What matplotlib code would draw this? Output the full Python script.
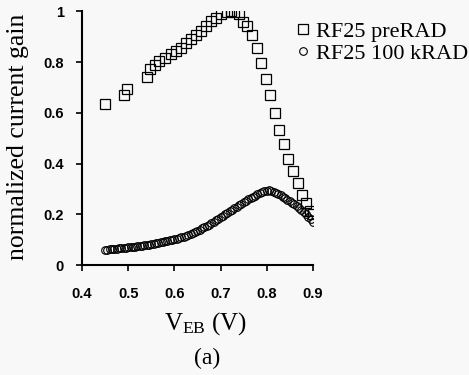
import matplotlib
matplotlib.use("Agg")
import matplotlib.pyplot as plt

plt.rcParams["mathtext.fontset"] = "custom"
plt.rcParams["mathtext.rm"] = "Liberation Serif"
plt.rcParams["mathtext.it"] = "Liberation Serif:italic"

pre_x = [0.450, 0.490, 0.498, 0.540, 0.547, 0.557, 0.567, 0.580, 0.592, 0.603,
         0.614, 0.625, 0.636, 0.647, 0.658, 0.669, 0.680, 0.691, 0.702, 0.713,
         0.722, 0.730, 0.740, 0.748, 0.758, 0.768, 0.778, 0.788, 0.798, 0.807,
         0.817, 0.827, 0.837, 0.847, 0.858, 0.867, 0.877, 0.886, 0.894, 0.900]
pre_y = [0.636, 0.672, 0.694, 0.742, 0.771, 0.788, 0.804, 0.814, 0.830, 0.843,
         0.856, 0.874, 0.889, 0.907, 0.922, 0.940, 0.960, 0.975, 0.990, 0.997,
         1.000, 0.996, 0.988, 0.957, 0.942, 0.905, 0.854, 0.797, 0.734, 0.669,
         0.600, 0.534, 0.476, 0.418, 0.369, 0.323, 0.277, 0.245, 0.215, 0.200]

rad_x = [0.450, 0.455, 0.460, 0.465, 0.470, 0.475, 0.480, 0.485, 0.490, 0.495,
         0.500, 0.505, 0.510, 0.515, 0.520, 0.525, 0.530, 0.535, 0.540, 0.545,
         0.550, 0.555, 0.560, 0.565, 0.570, 0.575, 0.580, 0.585, 0.590, 0.595,
         0.600, 0.605, 0.610, 0.615, 0.620, 0.625, 0.630, 0.635, 0.640, 0.645,
         0.650, 0.655, 0.660, 0.665, 0.670, 0.675, 0.680, 0.685, 0.690, 0.695,
         0.700, 0.705, 0.710, 0.715, 0.720, 0.725, 0.730, 0.735, 0.740, 0.745,
         0.750, 0.755, 0.760, 0.765, 0.770, 0.775, 0.780, 0.785, 0.790, 0.795,
         0.800, 0.805, 0.810, 0.815, 0.820, 0.825, 0.830, 0.835, 0.840, 0.845,
         0.850, 0.855, 0.860, 0.865, 0.870, 0.875, 0.880, 0.885, 0.890, 0.895,
         0.900]
rad_y = [0.060, 0.061, 0.062, 0.063, 0.064, 0.065, 0.066, 0.067, 0.068, 0.069,
         0.070, 0.071, 0.072, 0.073, 0.074, 0.075, 0.076, 0.078, 0.079, 0.081,
         0.083, 0.084, 0.086, 0.088, 0.090, 0.092, 0.094, 0.096, 0.098, 0.100,
         0.102, 0.104, 0.107, 0.110, 0.112, 0.115, 0.118, 0.122, 0.126, 0.130,
         0.135, 0.140, 0.145, 0.150, 0.155, 0.160, 0.166, 0.171, 0.176, 0.182,
         0.188, 0.194, 0.200, 0.206, 0.212, 0.218, 0.224, 0.230, 0.236, 0.242,
         0.248, 0.254, 0.259, 0.264, 0.269, 0.274, 0.279, 0.284, 0.288, 0.291,
         0.293, 0.294, 0.293, 0.290, 0.286, 0.281, 0.276, 0.270, 0.264, 0.258,
         0.252, 0.246, 0.240, 0.233, 0.226, 0.218, 0.210, 0.200, 0.190, 0.180,
         0.170]

x_ticks = [0.4, 0.5, 0.6, 0.7, 0.8, 0.9]
x_tick_labels = ["0.4", "0.5", "0.6", "0.7", "0.8", "0.9"]
y_ticks = [0, 0.2, 0.4, 0.6, 0.8, 1]
y_tick_labels = ["0", "0.2", "0.4", "0.6", "0.8", "1"]

bg = "#f8f8f8"
fig = plt.figure(figsize=(4.69, 3.75), dpi=100, facecolor=bg)
ax = fig.add_axes([0.175, 0.293, 0.492, 0.677], facecolor=bg)

ax.plot(pre_x, pre_y, linestyle="none", marker="s", markersize=7,
        markerfacecolor="none", markeredgecolor="black", markeredgewidth=0.9,
        label="RF25 preRAD")
ax.plot(rad_x, rad_y, linestyle="none", marker="o", markersize=5.5,
        markerfacecolor="none", markeredgecolor="black", markeredgewidth=0.8,
        label="RF25 100 kRAD")

ax.set_xlim(0.4, 0.9)
ax.set_ylim(0, 1)
ax.set_xticks(x_ticks)
ax.set_xticklabels(x_tick_labels)
ax.set_yticks(y_ticks)
ax.set_yticklabels(y_tick_labels)
for s in ["top", "right"]:
    ax.spines[s].set_visible(False)
for s in ["left", "bottom"]:
    ax.spines[s].set_linewidth(1.5)
ax.tick_params(direction="out", length=4, width=1.2, labelsize=10.5)
ax.tick_params(axis="x", pad=12)
ax.tick_params(axis="y", pad=9)
for lab in ax.get_xticklabels() + ax.get_yticklabels():
    lab.set_fontfamily("Liberation Sans")
    lab.set_fontweight("bold")

ax.set_ylabel("normalized current gain", fontfamily="Liberation Serif",
              fontsize=18.5, va="center")
ax.yaxis.set_label_coords(-0.277, 0.506)
ax.set_xlabel(r"V$_{\mathrm{EB}}$ (V)", fontfamily="Liberation Serif",
              fontsize=18, va="center")
ax.xaxis.set_label_coords(0.535, -0.232)
fig.text(0.441, 0.045, "(a)", ha="center", va="center",
         fontfamily="Liberation Serif", fontsize=17)

leg = ax.legend(loc="upper left", bbox_to_anchor=(0.93, 0.96), frameon=False,
                prop={"family": "Liberation Serif", "size": 16},
                handlelength=0.6, handletextpad=0.25, borderaxespad=0.0,
                labelspacing=0.05, borderpad=0.0)

fig.savefig("out.png", dpi=100, facecolor=bg)
